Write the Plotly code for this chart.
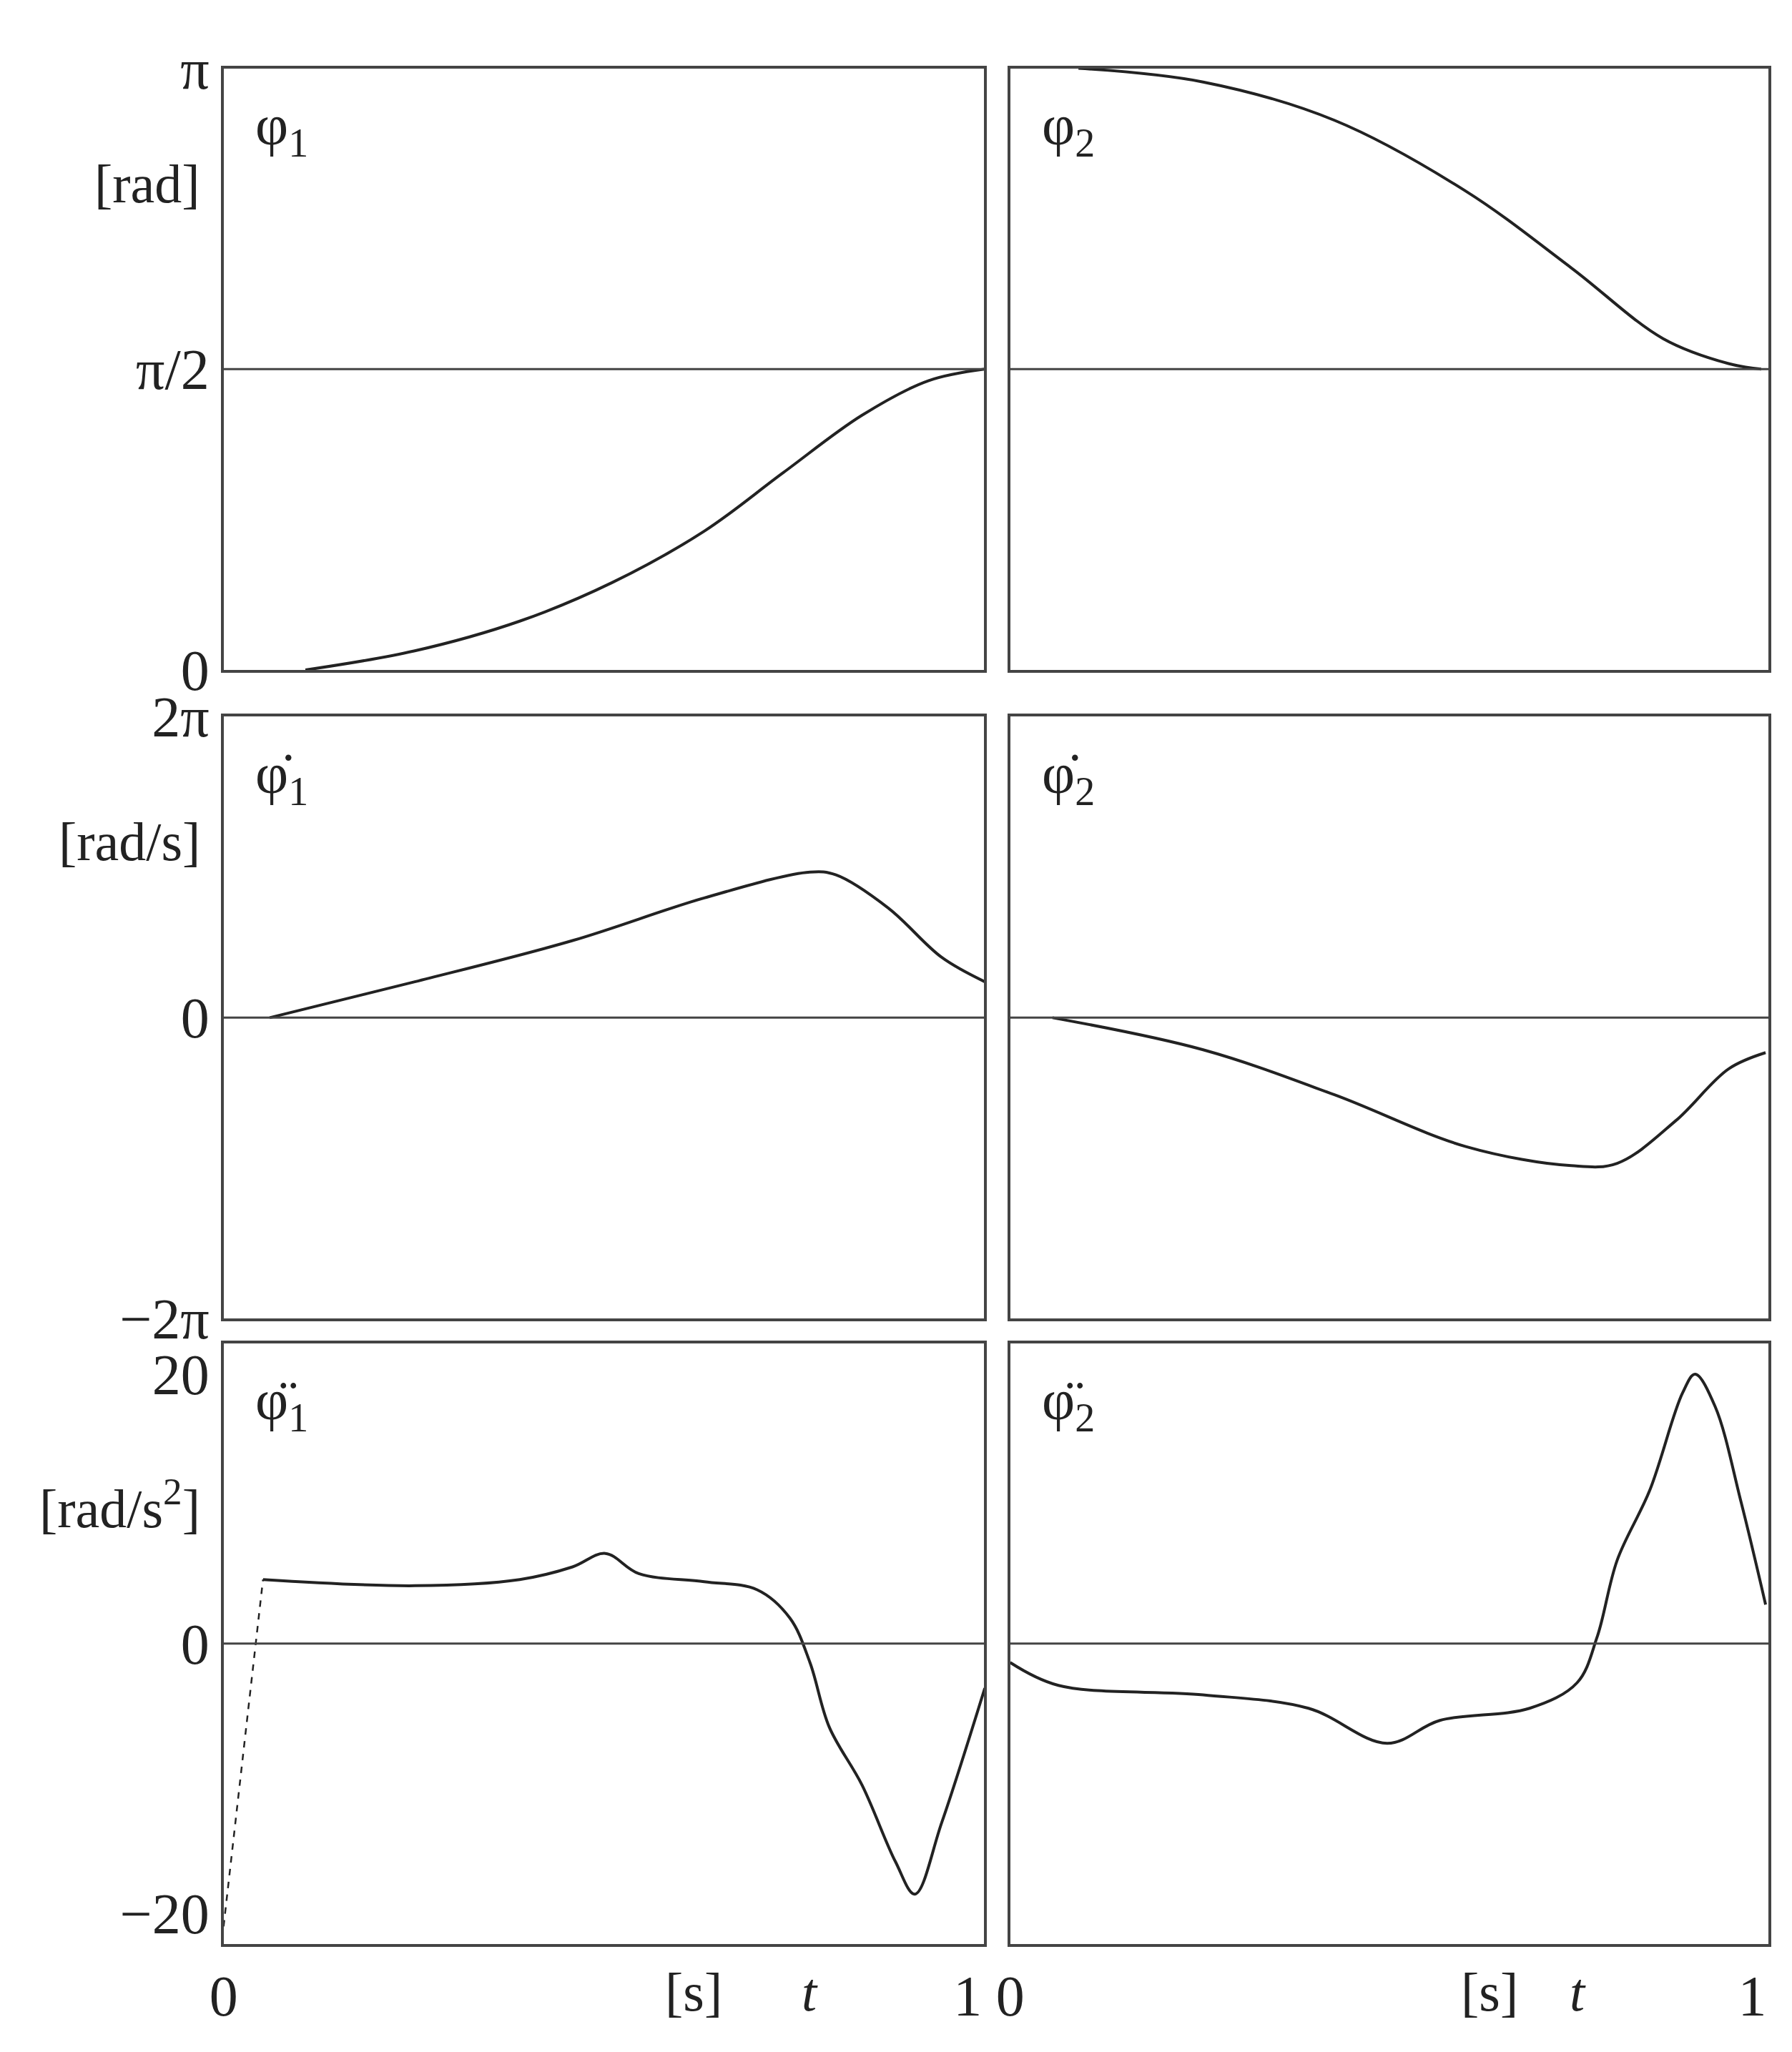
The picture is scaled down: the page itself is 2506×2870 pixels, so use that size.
import plotly.graph_objects as go
import math

PI = math.pi
# data (t in s)
t_p1 = [0.11, 0.257, 0.398, 0.522, 0.646, 0.752, 0.858, 0.947, 1.023]
p1 = [0.0, 0.10, 0.255, 0.456, 0.725, 1.03, 1.33, 1.51, 1.571]
t_p2 = [0.092, 0.26, 0.437, 0.614, 0.756, 0.88, 0.968, 1.012]
p2 = [3.1416, 3.07, 2.87, 2.50, 2.10, 1.73, 1.60, 1.571]
t_v1 = [0.062, 0.257, 0.469, 0.646, 0.788, 0.823, 0.894, 0.965, 1.023]
v1 = [0.0, 0.75, 1.61, 2.5, 3.04, 2.98, 2.28, 1.26, 0.75]
t_v2 = [0.057, 0.26, 0.437, 0.614, 0.756, 0.818, 0.897, 0.968, 1.018]
v2 = [0.0, -0.67, -1.61, -2.69, -3.09, -3.04, -2.15, -1.07, -0.73]
t_a1d = [0.0, 0.053]
a1d = [-21.0, 4.76]
t_a1 = [0.053, 0.257, 0.398, 0.469, 0.513, 0.558, 0.646, 0.717, 0.761, 0.788, 0.814, 0.858, 0.903, 0.929, 0.965, 1.023]
a1 = [4.76, 4.3, 4.76, 5.7, 6.7, 5.2, 4.6, 4.0, 1.9, -1.4, -6.2, -10.5, -16.2, -18.6, -13.3, -3.3]
t_a2 = [0.0, 0.065, 0.26, 0.402, 0.508, 0.579, 0.7, 0.764, 0.791, 0.818, 0.862, 0.906, 0.923, 0.95, 0.985, 1.018]
a2 = [-1.4, -3.1, -3.8, -4.8, -7.4, -5.7, -4.8, -2.9, 0.5, 6.2, 11.4, 18.6, 20.0, 17.6, 10.5, 2.9]

FONT = "Liberation Serif"
LC = "#444"
FS = 80
fig = go.Figure()

xdom = [[0.1145, 0.5423], [0.557, 0.9836]]
ydom = [[0.6815, 0.984], [0.3554, 0.658], [0.041, 0.343]]
yr = [[0, PI], [-2 * PI, 2 * PI], [-22.3, 22.3]]
yt = [([0, PI / 2, PI], ["0", "π/2", "π"]),
      ([-2 * PI, 0, 2 * PI], ["−2π", "0", "2π"]),
      ([-20, 0, 20], ["−20", "0", "20"])]
hline = [PI / 2, 0, 0]
series = [[(t_p1, p1), (t_p2, p2)], [(t_v1, v1), (t_v2, v2)], [(t_a1, a1), (t_a2, a2)]]
names = [["φ<sub>1</sub>", "φ<sub>2</sub>"],
         ["φ\u0307<sub>1</sub>", "φ\u0307<sub>2</sub>"],
         ["φ\u0308<sub>1</sub>", "φ\u0308<sub>2</sub>"]]
units = ["[rad]", "[rad/s]", "[rad/s<sup>2</sup>]"]
unit_y = [2.54, 3.68, 10.3]

layout = dict(width=2506, height=2870, paper_bgcolor="white", plot_bgcolor="white",
              showlegend=False, margin=dict(l=0, r=0, t=0, b=0),
              font=dict(family=FONT, size=FS, color="#222"))
annots = []
shapes = []
k = 0
for r in range(3):
    for c in range(2):
        k += 1
        xa = "xaxis" if k == 1 else f"xaxis{k}"
        ya = "yaxis" if k == 1 else f"yaxis{k}"
        xr = "x" if k == 1 else f"x{k}"
        yrf = "y" if k == 1 else f"y{k}"
        layout[xa] = dict(domain=xdom[c], range=[0, 1.022], anchor=yrf, showgrid=False,
                          zeroline=False, showline=True, mirror=True, linecolor=LC, linewidth=4,
                          tickvals=[0, 1], ticktext=["0", "1"], showticklabels=(r == 2),
                          ticks="", tickfont=dict(size=FS, family=FONT))
        layout[ya] = dict(domain=ydom[r], range=yr[r], anchor=xr, showgrid=False,
                          zeroline=False, showline=True, mirror=True, linecolor=LC, linewidth=4,
                          tickvals=yt[r][0], ticktext=yt[r][1], showticklabels=(c == 0),
                          ticks="", tickfont=dict(size=FS, family=FONT))
        shapes.append(dict(type="line", xref=f"{xr} domain", yref=yrf, x0=0, x1=1,
                           y0=hline[r], y1=hline[r], line=dict(color=LC, width=3)))
        tx, ty = series[r][c]
        fig.add_trace(go.Scatter(x=tx, y=ty, mode="lines", line=dict(color="#222", width=4, shape="spline"),
                                 xaxis=xr, yaxis=yrf))
        if r == 2 and c == 0:
            fig.add_trace(go.Scatter(x=t_a1d, y=a1d, mode="lines", line=dict(color="#222", width=2.5, dash="dash"),
                                     xaxis=xr, yaxis=yrf))
        annots.append(dict(text=names[r][c], xref=f"{xr} domain", yref=f"{yrf} domain", x=0.04, y=0.96,
                           xanchor="left", yanchor="top", showarrow=False, font=dict(size=FS, family=FONT)))
        if c == 0:
            annots.append(dict(text=units[r], xref="paper", yref=yrf, x=0.102, y=unit_y[r],
                               xanchor="right", yanchor="middle", showarrow=False, font=dict(size=76, family=FONT)))
        if r == 2:
            sx = 0.632 if c == 0 else 0.646
            tx_ = 0.788 if c == 0 else 0.765
            annots.append(dict(text="[s]", xref=xr, yref="paper", x=sx, y=0.017, yanchor="middle",
                               showarrow=False, font=dict(size=76, family=FONT)))
            annots.append(dict(text="<i>t</i>", xref=xr, yref="paper", x=tx_, y=0.017, yanchor="middle",
                               showarrow=False, font=dict(size=76, family=FONT)))
shapes.append(dict(type="line", xref="paper", yref="paper", x0=0.9995, x1=0.9995, y0=0.0, y1=0.03,
                   line=dict(color="#222", width=3)))
layout["annotations"] = annots
layout["shapes"] = shapes
fig.update_layout(**layout)
fig.write_html("out.html")
